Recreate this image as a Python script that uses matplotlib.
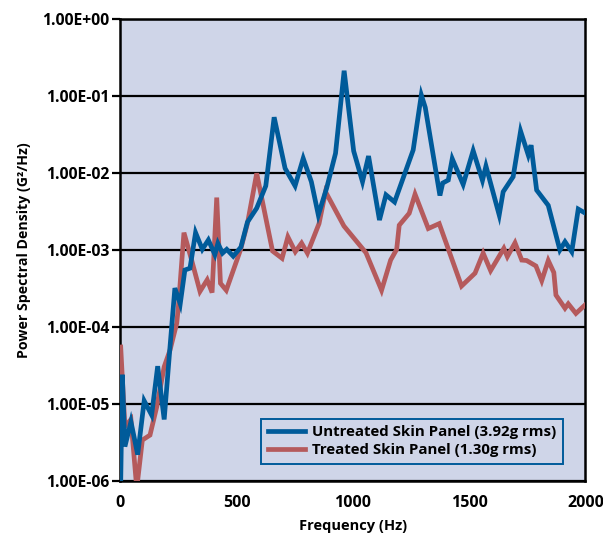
import matplotlib.pyplot as plt
from matplotlib.ticker import FixedLocator, FuncFormatter, NullLocator

# untreated skin panel (blue)
f_untreated = [0, 8, 19, 45, 74, 102, 134, 160, 188, 213, 234, 257, 277, 299, 323, 352,
               378, 406, 419, 439, 457, 485, 518, 546, 586, 625, 661, 708, 751, 786, 821,
               851, 887, 925, 962, 1003, 1041, 1067, 1114, 1142, 1179, 1259, 1294, 1311,
               1374, 1386, 1410, 1427, 1474, 1517, 1557, 1572, 1629, 1646, 1689, 1721,
               1754, 1766, 1790, 1840, 1890, 1912, 1941, 1969, 2000]
psd_untreated = [6e-7, 2.4e-5, 2.8e-6, 5.9e-6, 2.2e-6, 1.1e-5, 7.2e-6, 3.1e-5, 6.3e-6,
                 5.5e-5, 3.2e-4, 2.0e-4, 5.5e-4, 5.8e-4, 1.68e-3, 1.02e-3, 1.35e-3, 8.7e-4,
                 1.22e-3, 9.1e-4, 1.02e-3, 8.3e-4, 1.09e-3, 2.3e-3, 3.5e-3, 6.8e-3, 5.3e-2,
                 1.15e-2, 6.8e-3, 1.55e-2, 7.7e-3, 2.85e-3, 6.4e-3, 1.8e-2, 0.213, 1.93e-2,
                 7.7e-3, 1.66e-2, 2.45e-3, 5.2e-3, 4.2e-3, 1.99e-2, 0.103, 7.1e-2, 5.1e-3,
                 7.4e-3, 8.1e-3, 1.53e-2, 7.1e-3, 1.95e-2, 8.0e-3, 1.23e-2, 2.85e-3, 5.7e-3,
                 8.95e-3, 3.5e-2, 1.71e-2, 2.3e-2, 6.0e-3, 3.8e-3, 1.0e-3, 1.28e-3, 9.5e-4,
                 3.4e-3, 3.0e-3]

# treated skin panel (red)
f_treated = [1, 19, 45, 70, 94, 127, 156, 188, 213, 242, 249, 273, 306, 342, 373, 394,
             414, 430, 455, 516, 546, 586, 654, 695, 720, 752, 779, 804, 854, 882, 961,
             1056, 1123, 1162, 1188, 1199, 1242, 1267, 1324, 1371, 1467, 1525, 1560, 1592,
             1649, 1664, 1697, 1726, 1747, 1787, 1812, 1840, 1864, 1873, 1912, 1926, 1959,
             1998]
psd_treated = [5.5e-5, 5.1e-6, 6.3e-6, 8e-7, 3.4e-6, 3.95e-6, 9.2e-6, 3.05e-5, 5.0e-5,
               1.12e-4, 1.83e-4, 1.68e-3, 7.4e-4, 2.9e-4, 4.1e-4, 2.8e-4, 4.8e-3, 3.7e-4,
               3.0e-4, 1.0e-3, 2.2e-3, 9.9e-3, 9.7e-4, 7.8e-4, 1.48e-3, 9.5e-4, 1.23e-3,
               9.1e-4, 2.2e-3, 5.7e-3, 2.05e-3, 9.2e-4, 3.0e-4, 7.4e-4, 1.02e-3, 2.1e-3,
               3.0e-3, 5.3e-3, 1.9e-3, 2.2e-3, 3.4e-4, 5.0e-4, 9.1e-4, 5.4e-4, 1.05e-3,
               8.2e-4, 1.24e-3, 7.4e-4, 7.3e-4, 6.2e-4, 4.0e-4, 7.3e-4, 5.1e-4, 2.6e-4,
               1.75e-4, 2.0e-4, 1.5e-4, 1.93e-4]

y_ticks = [1e-6, 1e-5, 1e-4, 1e-3, 1e-2, 1e-1, 1e0]
x_ticks = [0, 500, 1000, 1500, 2000]

plt.rcParams['font.family'] = ['Open Sans', 'DejaVu Sans']
plt.rcParams['font.weight'] = 'bold'

fig = plt.figure(figsize=(6.03, 5.38), dpi=100)
ax = fig.add_axes([0.1998, 0.1059, 0.7711, 0.8588])
ax.set_facecolor('#cfd5e8')

ax.plot(f_treated, psd_treated, color='#b55a5c', lw=3.4, solid_joinstyle='miter',
        label='Treated Skin Panel (1.30g rms)', zorder=3)
ax.plot(f_untreated, psd_untreated, color='#005b9a', lw=3.4, solid_joinstyle='miter',
        label='Untreated Skin Panel (3.92g rms)', zorder=4)

ax.set_yscale('log')
ax.set_xlim(0, 2000)
ax.set_ylim(1e-6, 1e0)
ax.yaxis.set_major_locator(FixedLocator(y_ticks))
ax.yaxis.set_minor_locator(NullLocator())
ax.yaxis.set_major_formatter(FuncFormatter(lambda v, p: f"{v:.2E}"))
ax.set_xticks(x_ticks)
ax.grid(axis='y', color='black', lw=1.6, zorder=1)
ax.set_axisbelow(True)

for s in ax.spines.values():
    s.set_linewidth(1.8)
    s.set_color('black')

ax.tick_params(axis='y', length=6, width=1.6, labelsize=11.3, pad=2)
ax.tick_params(axis='x', length=0, labelsize=11.5, pad=10)
for lbl in ax.get_xticklabels() + ax.get_yticklabels():
    lbl.set_fontweight('bold')

ax.set_xlabel('Frequency (Hz)', fontsize=10.5, fontweight='bold', labelpad=6)
ax.set_ylabel('Power Spectral Density (G²/Hz)', fontsize=10.2, fontweight='bold', labelpad=8)

h, l = ax.get_legend_handles_labels()
leg = ax.legend(h[::-1], l[::-1], loc='lower right', bbox_to_anchor=(0.968, 0.021),
                fontsize=10.8, frameon=True, fancybox=False, handlelength=2.5,
                handletextpad=0.45, borderpad=0.45, labelspacing=0.25)
leg.get_frame().set_edgecolor('#005b9a')
leg.get_frame().set_linewidth(1.4)
leg.get_frame().set_facecolor('#cfd5e8')
leg.get_frame().set_alpha(1)
for t in leg.get_texts():
    t.set_fontweight('bold')

fig.savefig('out.png', dpi=100)
